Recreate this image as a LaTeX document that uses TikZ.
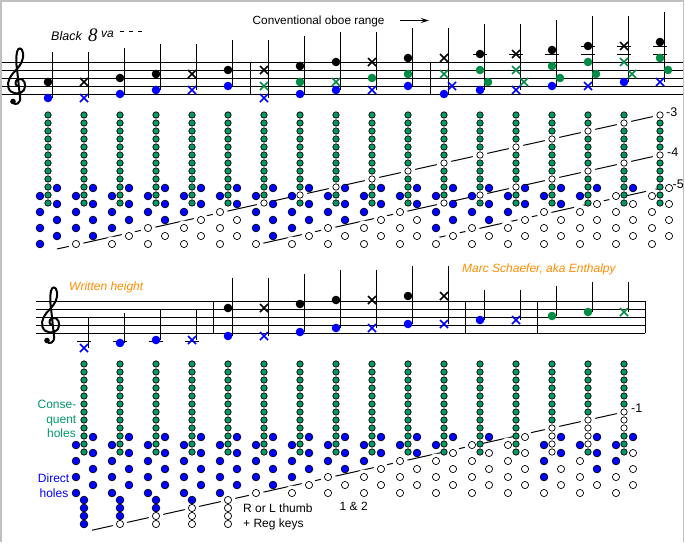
\documentclass[tikz,border=0pt]{standalone}
\usepackage{fontspec}
\setmainfont{Liberation Sans}
\newfontfamily\SerifFam{Liberation Serif}
\usetikzlibrary{arrows.meta}
\definecolor{hgreen}{RGB}{0,153,102}
\definecolor{ngreen}{RGB}{0,140,70}
\definecolor{hblue}{RGB}{0,0,255}
\definecolor{worange}{RGB}{255,140,0}
\definecolor{fgray}{RGB}{192,192,192}

\newcommand\NDot[3]{\fill[#1] (#2,#3) circle[radius=4.3pt];}
\newcommand\NX[3]{\draw[#1,line width=1.6pt] ({#2-4},{#3-4}) -- ({#2+4},{#3+4}) ({#2-4},{#3+4}) -- ({#2+4},{#3-4});}
\newcommand\NStem[3]{\draw[line width=1pt] ({#1+4},#2) -- ({#1+4},#3);}
\newcommand\NLedger[2]{\draw[line width=1pt] ({#1-7},#2) -- ({#1+7},#2);}
\newcommand\GClef[2]{%
\begin{scope}[shift={(#1,#2)}]
\draw[line width=2pt,line cap=round,line join=round]
 (19,86) .. controls (15,87) and (14,81) .. (18,79)
 .. controls (24,77) and (27,85) .. (24,90)
 .. controls (21,95) and (11,95) .. (8.5,88)
 .. controls (6.5,81) and (11,75) .. (16,70)
 .. controls (21,65) and (24,59) .. (23,53)
 .. controls (22,47) and (18,47) .. (17,52)
 .. controls (16,57) and (16,63) .. (17,69)
 -- (20,97)
 .. controls (21,104) and (15,106) .. (12.5,102);
\fill (13,101.5) circle[radius=2.8pt];
\end{scope}}
% one fingering column: x, y0, green list, direct list, green style prefix, direct style prefix
\newcommand\DrawCol[6]{%
  \foreach \s [count=\i from 0] in #3 {\path[#5 \s] (#1,{#2+8*\i}) circle;}%
  \foreach \s [count=\k from 0] in #4 {\ifodd\k\relax\def\dx{-8}\else\def\dx{9}\fi
     \path[#6 \s] ({#1+\dx},{#2+73+8*\k}) circle;}%
}
\def\TopData{%
0/{g,g,g,g,g,g,g,g,g,g,g,g}/{b,b,b,b,b,b,b,b},%
1/{g,g,g,g,g,g,g,g,g,g,g,g}/{b,b,b,b,b,b,b,w},%
2/{g,g,g,g,g,g,g,g,g,g,g,g}/{b,b,b,b,b,b,w,w},%
3/{g,g,g,g,g,g,g,g,g,g,g,g}/{b,b,b,b,b,w,w,w},%
4/{g,g,g,g,g,g,g,g,g,g,g,g}/{b,b,b,b,w,w,w,w},%
5/{g,g,g,g,g,g,g,g,g,g,g,g}/{b,b,b,w,w,w,w,w},%
6/{g,g,g,g,g,g,g,g,g,g,g,w}/{b,b,b,b,b,b,b,w},%
7/{g,g,g,g,g,g,g,g,g,g,w,g}/{b,b,b,b,b,b,w,w},%
8/{g,g,g,g,g,g,g,g,g,w,g,g}/{b,b,b,b,b,w,w,w},%
9/{g,g,g,g,g,g,g,g,w,g,g,g}/{b,b,b,b,w,w,w,w},%
10/{g,g,g,g,g,g,g,w,g,g,g,g}/{b,b,b,w,w,w,w,w},%
11/{g,g,g,g,g,g,w,g,g,g,g,w}/{b,b,b,b,b,b,w,w},%
12/{g,g,g,g,g,w,g,g,g,g,w,g}/{b,b,b,b,b,w,w,w},%
13/{g,g,g,g,w,g,g,g,g,w,g,g}/{b,b,b,b,w,w,w,w},%
14/{g,g,g,w,g,g,g,g,w,g,g,g}/{b,b,b,w,w,w,w,w},%
15/{g,g,w,g,g,g,g,w,g,g,g,g}/{b,b,w,w,w,w,w,w},%
16/{g,w,g,g,g,g,w,g,g,g,g,g}/{b,w,w,w,w,w,w,w},%
17/{w,g,g,g,g,w,g,g,g,g,g,g}/{w,w,w,w,w,w,w,w}}
\def\BotData{%
0/{g,g,g,g,g,g,g,g,g,g,g,g}/{b,b,b,b,b,b,b,b},%
1/{g,g,g,g,g,g,g,g,g,g,g,g}/{b,b,b,b,b,b,b,b},%
2/{g,g,g,g,g,g,g,g,g,g,g,g}/{b,b,b,b,b,b,b,b},%
3/{g,g,g,g,g,g,g,g,g,g,g,g}/{b,b,b,b,b,b,b,b},%
4/{g,g,g,g,g,g,g,g,g,g,g,g}/{b,b,b,b,b,b,b,b},%
5/{g,g,g,g,g,g,g,g,g,g,g,g}/{b,b,b,b,b,b,b,w},%
6/{g,g,g,g,g,g,g,g,g,g,g,g}/{b,b,b,b,b,b,w,w},%
7/{g,g,g,g,g,g,g,g,g,g,g,g}/{b,b,b,b,b,w,w,w},%
8/{g,g,g,g,g,g,g,g,g,g,g,g}/{b,b,b,b,w,w,w,w},%
9/{g,g,g,g,g,g,g,g,g,g,g,g}/{b,b,b,w,w,w,w,w},%
10/{g,g,g,g,g,g,g,g,g,g,g,g}/{b,b,w,w,w,w,w,w},%
11/{g,g,g,g,g,g,g,g,g,g,g,g}/{b,w,w,w,w,w,w,w},%
12/{g,g,g,g,g,g,g,g,g,g,g,g}/{w,w,w,w,w,w,w,w},%
13/{g,g,g,g,g,g,g,g,w,w,w,w}/{b,b,b,b,w,b,w,w},%
14/{g,g,g,g,g,g,g,w,w,w,w,g}/{b,b,b,w,b,w,w,w},%
15/{g,g,g,g,g,g,w,w,w,g,g,g}/{b,b,w,b,w,w,w,w}}
\def\ThumbData{0/{b,b,b,b},1/{b,b,b,w},2/{b,b,w,w},3/{b,w,w,w},4/{w,w,w,w}}
\newcommand\DrawHoles[2]{% #1 green prefix, #2 direct prefix
  \foreach \c/\G/\D in \TopData {\pgfmathsetmacro\cx{48+36*\c}\DrawCol{\cx}{115}{\G}{\D}{#1}{#2}}
  \foreach \c/\G/\D in \BotData {\pgfmathsetmacro\cx{84+36*\c}\DrawCol{\cx}{364}{\G}{\D}{#1}{#2}}
  \foreach \c/\T in \ThumbData {\pgfmathsetmacro\cx{84+36*\c}
    \foreach \s [count=\t from 0] in \T {\path[#2 \s] (\cx,{500+8*\t}) circle;}}
}

\begin{document}
\begin{tikzpicture}[x=1pt,y=-1pt,
  txt/.style={inner sep=0pt,font=\fontsize{12}{14}\selectfont},
  gh g/.style={draw=black,line width=0.7pt,fill=hgreen,radius=3.2pt},
  gh w/.style={draw=black,line width=0.7pt,fill=white,radius=3.2pt},
  dh b/.style={draw=black,line width=0.6pt,fill=hblue,radius=3.9pt},
  dh w/.style={draw=black,line width=0.7pt,fill=white,radius=3.6pt},
  halo g/.style={radius=0.1pt},
  halo b/.style={radius=0.1pt},
  halo w/.style={fill=white,radius=7.5pt},
  dline/.style={line width=1pt}]
\useasboundingbox (0,0) rectangle (685,542);
% frame
\draw[fgray,line width=1.5pt] (0.75,542) -- (0.75,0.75) -- (683.3,0.75) -- (683.3,542);

% ---------- top staff ----------
\foreach \y in {62,70,78,86,94} \draw[line width=1pt] (1.5,\y) -- (682.5,\y);
\foreach \x in {250,430} \draw[line width=1pt] (\x,62) -- (\x,94);
\GClef{0}{0}
\node[txt,anchor=base west,font=\fontsize{12.5}{14}\selectfont\itshape] (blk) at (51,40.5) {Black};
\node[inner sep=0pt,anchor=base west,font=\SerifFam\fontsize{19}{20}\selectfont\itshape] (eight) at (88,41.7) {8};
\node[inner sep=0pt,anchor=base west,font=\fontsize{12}{12}\selectfont\itshape] (va) at (101,37) {va};
\draw[line width=1pt,dash pattern=on 4pt off 5pt] (120,31) -- (144,31);
\node[txt,anchor=base west,font=\fontsize{11.8}{14}\selectfont] (conv) at (252.5,24.3) {Conventional oboe range};
\coordinate (arrA) at (400,20.5);
\coordinate (arrB) at (429,20.5);
\draw[line width=1pt,-{Stealth[length=8pt,width=5pt]}] (arrA) -- (arrB);

% stems top
\NStem{48}{52}{98}\NStem{84}{52}{98}\NStem{120}{48}{94}\NStem{156}{44}{90}
\NStem{192}{44}{90}\NStem{228}{40}{86}\NStem{264}{40}{98}\NStem{300}{36}{94}
\NStem{336}{32}{90}\NStem{372}{32}{90}\NStem{408}{28}{86}\NStem{444}{28}{94}
\NStem{480}{24}{90}\NStem{516}{24}{90}\NStem{552}{20}{86}\NStem{588}{16}{86}
\NStem{624}{16}{82}\NStem{660}{12}{82}
% ledgers top
\NLedger{480}{54}\NLedger{516}{54}\NLedger{552}{54}
\NLedger{588}{54}\NLedger{588}{46}\NLedger{624}{54}\NLedger{624}{46}
\NLedger{660}{54}\NLedger{660}{46}
% notes top
\NDot{black}{48}{82}\NDot{hblue}{48}{98}
\NX{black}{84}{82}\NX{hblue}{84}{98}
\NDot{black}{120}{78}\NDot{hblue}{120}{94}
\NDot{black}{156}{74}\NDot{hblue}{156}{90}
\NX{black}{192}{74}\NX{hblue}{192}{90}
\NDot{black}{228}{70}\NDot{hblue}{228}{86}
\NX{black}{264}{70}\NX{ngreen}{264}{86}\NX{hblue}{264}{98}
\NDot{black}{300}{66}\NDot{ngreen}{300}{82}\NDot{hblue}{300}{94}
\NDot{black}{336}{62}\NX{ngreen}{336}{82}\NDot{hblue}{336}{90}
\NX{black}{372}{62}\NDot{ngreen}{372}{78}\NX{hblue}{372}{90}
\NDot{black}{408}{58}\NDot{ngreen}{408}{74}\NDot{hblue}{408}{86}
\NX{black}{444}{58}\NX{ngreen}{444}{74}\NDot{hblue}{444}{94}\NX{hblue}{452}{86}
\NDot{black}{480}{54}\NDot{ngreen}{480}{70}\NDot{ngreen}{488}{82}\NDot{hblue}{480}{90}
\NX{black}{516}{54}\NX{ngreen}{516}{70}\NX{ngreen}{524}{82}\NX{hblue}{516}{90}
\NDot{black}{552}{50}\NDot{ngreen}{552}{66}\NDot{ngreen}{560}{78}\NDot{hblue}{552}{86}
\NDot{black}{588}{46}\NDot{ngreen}{588}{62}\NDot{ngreen}{596}{74}\NX{hblue}{588}{86}
\NX{black}{624}{46}\NX{ngreen}{624}{62}\NX{ngreen}{632}{74}\NDot{hblue}{624}{82}
\NDot{black}{660}{42}\NDot{ngreen}{660}{58}\NDot{ngreen}{668}{70}\NX{hblue}{660}{82}

% ---------- bottom staff ----------
\foreach \y in {301,309,317,325,333} \draw[line width=1pt] (36,\y) -- (645,\y);
\foreach \x in {213,465,537,645} \draw[line width=1pt] (\x,301) -- (\x,333);
\GClef{34}{239}
\node[txt,anchor=base west,text=worange,font=\fontsize{12}{14}\selectfont\itshape] (wh) at (69,290.5) {Written height};
\node[txt,anchor=base west,text=worange,font=\fontsize{12}{14}\selectfont\itshape] (ms) at (462,272.5) {Marc Schaefer, aka Enthalpy};
\NStem{84}{318}{348}\NStem{120}{313}{343}\NStem{156}{310}{340}\NStem{192}{310}{340}
\NStem{228}{278}{336}\NStem{264}{278}{336}\NStem{300}{274}{332}\NStem{336}{270}{328}
\NStem{372}{270}{328}\NStem{408}{266}{324}\NStem{444}{266}{324}\NStem{480}{290}{320}
\NStem{516}{290}{320}\NStem{552}{286}{316}\NStem{588}{282}{312}\NStem{624}{282}{312}
\NLedger{84}{341}\NLedger{120}{341}\NLedger{156}{341}\NLedger{192}{341}
\NX{hblue}{84}{348}
\NDot{hblue}{120}{343}
\NDot{hblue}{156}{340}
\NX{hblue}{192}{340}
\NDot{black}{228}{308}\NDot{hblue}{228}{336}
\NX{black}{264}{308}\NX{hblue}{264}{336}
\NDot{black}{300}{304}\NDot{hblue}{300}{332}
\NDot{black}{336}{300}\NDot{hblue}{336}{328}
\NX{black}{372}{300}\NX{hblue}{372}{328}
\NDot{black}{408}{296}\NDot{hblue}{408}{324}
\NX{black}{444}{296}\NX{hblue}{444}{324}
\NDot{hblue}{480}{320}
\NX{hblue}{516}{320}
\NDot{ngreen}{552}{316}
\NDot{ngreen}{588}{312}
\NX{ngreen}{624}{312}

% ---------- register lines ----------
\coordinate (l3a) at (57,249);   \coordinate (l3b) at (660,115);
\coordinate (l4a) at (256,244.8);\coordinate (l4b) at (660,155);
\coordinate (l5a) at (436,238);  \coordinate (l5b) at (669,186.3);
\coordinate (l1a) at (92,530.2); \coordinate (l1b) at (624,412);
\draw[dline] (l3a) -- (l3b);
\draw[dline] (l4a) -- (l4b);
\draw[dline] (l5a) -- (l5b);
\draw[dline] (l1a) -- (l1b);
% halos then holes
\DrawHoles{halo}{halo}
\DrawHoles{gh}{dh}
\node[txt,anchor=base west,font=\fontsize{12.5}{14}\selectfont] (m3) at (666,116) {-3};
\node[txt,anchor=base west,font=\fontsize{12.5}{14}\selectfont] (m4) at (667,156) {-4};
\node[txt,anchor=base west,font=\fontsize{12.5}{14}\selectfont] (m5) at (672.5,188.7) {-5};
\node[txt,anchor=base west,font=\fontsize{12.5}{14}\selectfont] (m1) at (631,412.7) {-1};

% ---------- side labels ----------
\node[txt,anchor=base east,text=hgreen] (cq1) at (76.5,408.3) {Conse-};
\node[txt,anchor=base east,text=hgreen] (cq2) at (76.5,423.3) {quent};
\node[txt,anchor=base east,text=hgreen] (cq3) at (76,437.7) {holes};
\node[txt,anchor=base east,text=hblue] (dh1) at (69.5,482.3) {Direct};
\node[txt,anchor=base east,text=hblue] (dh2) at (68.5,497.3) {holes};
\node[txt,anchor=base west] (rl1) at (243,512.7) {R or L thumb};
\node[txt,anchor=base west] (rl2) at (243,527.7) {+ Reg keys};
\node[txt,anchor=base west] (ot) at (339.5,510.7) {1 \& 2};
\end{tikzpicture}
\end{document}
